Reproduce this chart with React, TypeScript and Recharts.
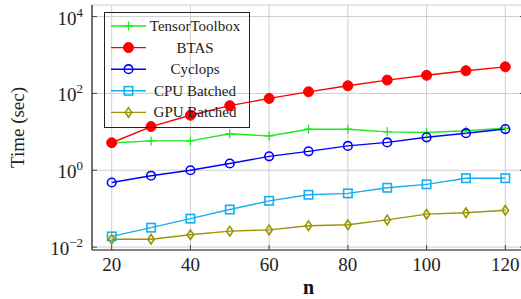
import React from 'react';
import { LineChart, Line, XAxis, YAxis, CartesianGrid } from 'recharts';

const nValues = [20, 30, 40, 50, 60, 70, 80, 90, 100, 110, 120];
const tensorToolbox = [5.1, 5.8, 5.8, 8.9, 7.8, 11.7, 11.7, 10.0, 9.6, 10.7, 12.4];
const btas = [5.2, 13.7, 27, 48, 74, 110, 158, 222, 296, 388, 492];
const cyclops = [0.48, 0.72, 1.0, 1.5, 2.3, 3.1, 4.3, 5.3, 7.2, 9.2, 11.8];
const cpuBatched = [0.019, 0.032, 0.055, 0.095, 0.16, 0.23, 0.25, 0.35, 0.43, 0.62, 0.62];
const gpuBatched = [0.016, 0.016, 0.021, 0.026, 0.028, 0.036, 0.038, 0.051, 0.072, 0.078, 0.091];

const xTicks = [20, 40, 60, 80, 100, 120];
const yTicks = [0.01, 1, 100, 10000];
const yExponents = ['\u22122', '0', '2', '4'];

const data = nValues.map((n, i) => ({
  n,
  tensorToolbox: tensorToolbox[i],
  btas: btas[i],
  cyclops: cyclops[i],
  cpuBatched: cpuBatched[i],
  gpuBatched: gpuBatched[i],
}));

const FONT = '"Liberation Serif", "Times New Roman", serif';
const TICK_COLOR = '#444';

type MarkerKind = 'plus' | 'dot' | 'circle' | 'square' | 'diamond';

const series: { key: string; name: string; color: string; marker: MarkerKind }[] = [
  { key: 'tensorToolbox', name: 'TensorToolbox', color: '#1fe81f', marker: 'plus' },
  { key: 'btas', name: 'BTAS', color: '#ff0000', marker: 'dot' },
  { key: 'cyclops', name: 'Cyclops', color: '#0000ff', marker: 'circle' },
  { key: 'cpuBatched', name: 'CPU Batched', color: '#17aef0', marker: 'square' },
  { key: 'gpuBatched', name: 'GPU Batched', color: '#9c9400', marker: 'diamond' },
];

const Marker = ({ kind, cx, cy, color }: { kind: MarkerKind; cx: number; cy: number; color: string }) => {
  switch (kind) {
    case 'plus':
      return (
        <g stroke={color} strokeWidth={1.3}>
          <line x1={cx - 4.5} y1={cy} x2={cx + 4.5} y2={cy} />
          <line x1={cx} y1={cy - 4.5} x2={cx} y2={cy + 4.5} />
        </g>
      );
    case 'dot':
      return <circle cx={cx} cy={cy} r={5} fill={color} stroke={color} strokeWidth={1} />;
    case 'circle':
      return <circle cx={cx} cy={cy} r={4.3} fill="none" stroke={color} strokeWidth={1.6} />;
    case 'square':
      return <rect x={cx - 4.2} y={cy - 4.2} width={8.4} height={8.4} fill="none" stroke={color} strokeWidth={1.6} />;
    case 'diamond':
      return (
        <path
          d={`M${cx},${cy - 4.8} L${cx + 3.2},${cy} L${cx},${cy + 4.8} L${cx - 3.2},${cy} Z`}
          fill="none"
          stroke={color}
          strokeWidth={1.6}
        />
      );
  }
};

const makeDot = (kind: MarkerKind, color: string) => (props: any) => (
  <Marker key={`${kind}-${props.index}`} kind={kind} cx={props.cx} cy={props.cy} color={color} />
);

const XTick = (props: any) => {
  const { x, y, payload } = props;
  return (
    <g>
      <line x1={x} y1={y - 8} x2={x} y2={y - 13} stroke={TICK_COLOR} strokeWidth={1} />
      <text x={x} y={y} dy="0.71em" textAnchor="middle" fontFamily={FONT} fontSize={19} fill="#222">
        {payload.value}
      </text>
    </g>
  );
};

const TopTick = (props: any) => {
  const { x, y } = props;
  return <line x1={x} y1={y} x2={x} y2={y + 5} stroke={TICK_COLOR} strokeWidth={1} />;
};

const YTick = (props: any) => {
  const { x, y, index } = props;
  return (
    <g>
      <line x1={x + 9} y1={y} x2={x + 14} y2={y} stroke={TICK_COLOR} strokeWidth={1} />
      <text x={x} y={y + 8} textAnchor="end" fontFamily={FONT} fill="#222">
        <tspan fontSize={19}>10</tspan>
        <tspan fontSize={13} dy={-8}>{yExponents[index]}</tspan>
      </text>
    </g>
  );
};

const RightTick = (props: any) => {
  const { x, y } = props;
  return <line x1={x} y1={y} x2={x - 5} y2={y} stroke={TICK_COLOR} strokeWidth={1} />;
};

const YLabel = (props: any) => {
  const vb = props.viewBox || { y: 5, height: 245 };
  const cy = vb.y + vb.height / 2;
  return (
    <text
      x={24}
      y={cy}
      transform={`rotate(-90, 24, ${cy})`}
      textAnchor="middle"
      fontFamily={FONT}
      fontSize={19}
      fill="#222"
    >
      Time (sec)
    </text>
  );
};

const LegendBox = () => (
  <svg width={147} height={117} style={{ display: 'block' }}>
    <rect x={0.5} y={0.5} width={145} height={115} fill="none" stroke="#222" strokeWidth={1} />
    {series.map((s, i) => {
      const cy = 14 + i * 21.6;
      return (
        <g key={s.key}>
          <line x1={7} y1={cy} x2={42} y2={cy} stroke={s.color} strokeWidth={1.4} />
          <Marker kind={s.marker} cx={24.5} cy={cy} color={s.color} />
          <text x={91} y={cy + 5} textAnchor="middle" fontFamily={FONT} fontSize={15} fill="#222">
            {s.name}
          </text>
        </g>
      );
    })}
  </svg>
);

export default function App() {
  return (
    <div style={{ position: 'absolute', left: 0, top: 0, width: 521, height: 299, overflow: 'hidden', background: '#fff' }}>
      <LineChart width={530} height={299} data={data} margin={{ top: 5, right: 0, bottom: 0, left: 0 }}>
        <CartesianGrid stroke="#cfcfcf" strokeWidth={1} />
        <XAxis
          dataKey="n"
          type="number"
          domain={[15, 125]}
          ticks={xTicks}
          height={49}
          tickSize={0}
          tickMargin={8}
          tick={<XTick />}
          axisLine={{ stroke: '#222', strokeWidth: 1.2 }}
          label={{ value: 'n', position: 'insideBottom', offset: 5, fontFamily: FONT, fontSize: 20, fontWeight: 'bold', fill: '#111' }}
        />
        <XAxis
          xAxisId="top"
          dataKey="n"
          type="number"
          orientation="top"
          domain={[15, 125]}
          ticks={xTicks}
          height={0}
          tickSize={0}
          tickMargin={0}
          tick={<TopTick />}
          axisLine={{ stroke: '#444', strokeWidth: 1.2 }}
        />
        <YAxis
          type="number"
          scale="log"
          domain={[0.0084, 20000]}
          allowDataOverflow
          ticks={yTicks}
          width={92}
          tickSize={0}
          tickMargin={9}
          tick={<YTick />}
          axisLine={{ stroke: '#222', strokeWidth: 1.2 }}
          label={<YLabel />}
        />
        <YAxis
          yAxisId="right"
          orientation="right"
          type="number"
          scale="log"
          domain={[0.0084, 20000]}
          allowDataOverflow
          ticks={yTicks}
          width={5}
          tickSize={0}
          tickMargin={0}
          tick={<RightTick />}
          axisLine={{ stroke: '#444', strokeWidth: 1.2 }}
        />
        {series.map((s) => (
          <Line
            key={s.key}
            dataKey={s.key}
            name={s.name}
            stroke={s.color}
            strokeWidth={1.4}
            dot={makeDot(s.marker, s.color)}
            activeDot={false}
            isAnimationActive={false}
          />
        ))}
      </LineChart>
      <div style={{ position: 'absolute', left: 104, top: 12 }}>
        <LegendBox />
      </div>
    </div>
  );
}
